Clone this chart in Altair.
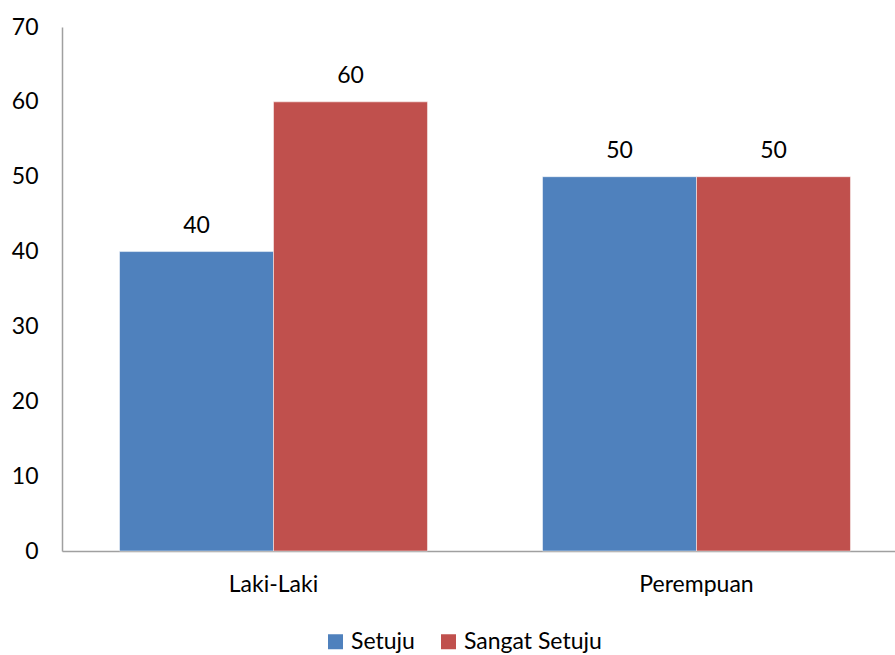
import altair as alt
import pandas as pd

# Responses by gender
genders = ["Laki-Laki", "Laki-Laki", "Perempuan", "Perempuan"]
answers = ["Setuju", "Sangat Setuju", "Setuju", "Sangat Setuju"]
values = [40, 60, 50, 50]

answer_order = ["Setuju", "Sangat Setuju"]
answer_colors = ["#4F81BD", "#C0504D"]

df = pd.DataFrame({"gender": genders, "answer": answers, "value": values})

FONT = "Lato"
FS = 23

x_enc = alt.X(
    "gender:N",
    title=None,
    scale=alt.Scale(range=[0, 846], paddingInner=0.272, paddingOuter=0.136),
    axis=alt.Axis(
        labelAngle=0,
        ticks=False,
        domainColor="#a0a0a0",
        domainWidth=1.5,
        labelFontSize=FS,
        labelFont=FONT,
        labelColor="#000000",
        labelPadding=22,
    ),
)
xoff = alt.XOffset("answer:N", sort=answer_order, scale=alt.Scale(paddingInner=0, paddingOuter=0))
y_enc = alt.Y(
    "value:Q",
    title=None,
    scale=alt.Scale(domain=[0, 70], nice=False),
    axis=alt.Axis(
        values=[0, 10, 20, 30, 40, 50, 60, 70],
        grid=False,
        ticks=False,
        domainColor="#a0a0a0",
        domainWidth=1.5,
        labelFontSize=FS,
        labelFont=FONT,
        labelColor="#000000",
        labelPadding=24,
    ),
)

base = alt.Chart(df).encode(x=x_enc, xOffset=xoff, y=y_enc)

bars = base.mark_bar(stroke="white", strokeWidth=0.5).encode(
    color=alt.Color(
        "answer:N",
        sort=answer_order,
        scale=alt.Scale(domain=answer_order, range=answer_colors),
        legend=alt.Legend(
            title=None,
            orient="none",
            direction="horizontal",
            legendX=262,
            legendY=603,
            symbolType="square",
            symbolSize=225,
            symbolStrokeWidth=0,
            labelFontSize=FS,
            labelFont=FONT,
            labelColor="#000000",
            labelOffset=4,
            columnPadding=22,
        ),
    )
)

labels = base.mark_text(baseline="bottom", dy=-14, fontSize=FS, font=FONT, color="#000000").encode(
    text=alt.Text("value:Q")
)

chart = (
    alt.layer(bars, labels)
    .properties(
        width=833,
        height=524,
        autosize=alt.AutoSizeParams(type="none"),
        padding={"left": 62, "top": 27, "right": 0, "bottom": 104},
    )
    .configure_view(stroke=None)
)

chart.save("out.html", embed_options={"renderer": "svg", "actions": False})
